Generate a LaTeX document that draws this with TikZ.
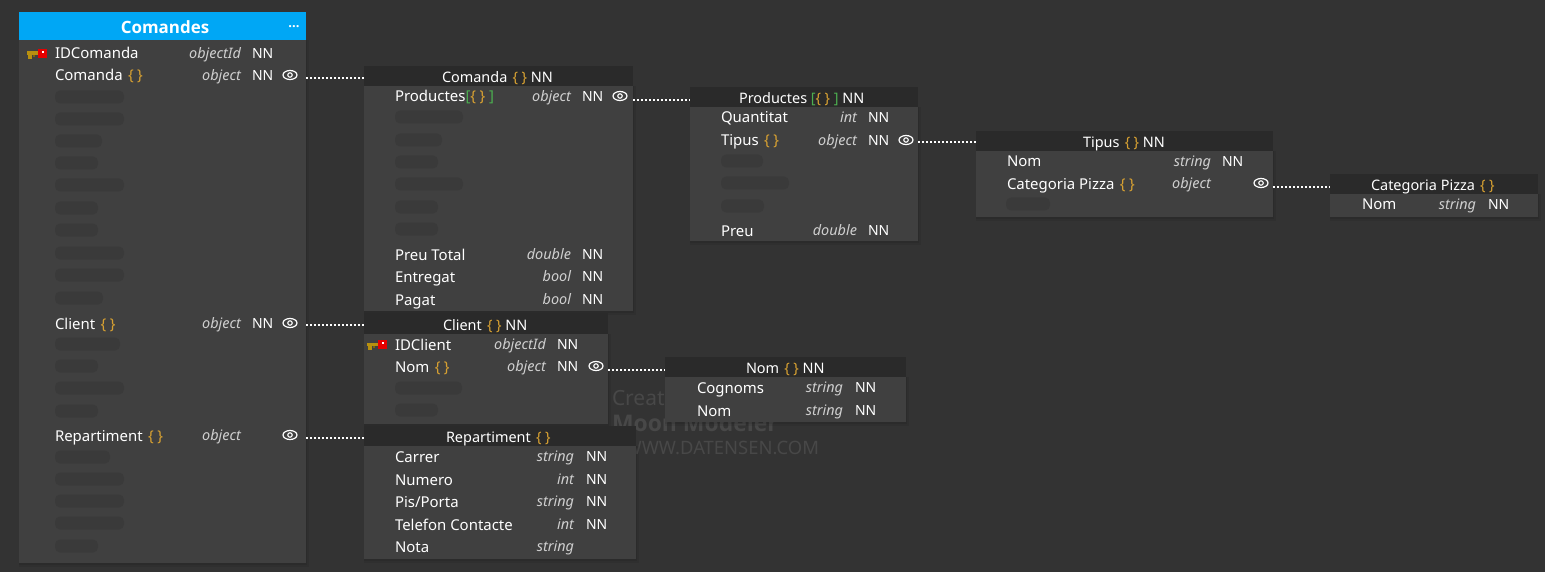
\documentclass[tikz,border=0pt]{standalone}
\usepackage{fontspec}
\setmainfont{Noto Sans}
\newfontfamily\boldface{Open Sans}
\usetikzlibrary{shapes.geometric}
\definecolor{canvasbg}{HTML}{333333}
\definecolor{bodybg}{HTML}{404040}
\definecolor{hdrbg}{HTML}{2A2A2A}
\definecolor{bluehdr}{HTML}{00A7F5}
\definecolor{bracecol}{HTML}{D6A032}
\definecolor{listcol}{HTML}{4CAF50}
\definecolor{typecol}{HTML}{CFCFCF}
\definecolor{ghostcol}{HTML}{3A3A3A}
\definecolor{wmcol}{HTML}{484848}
\definecolor{keygold}{HTML}{B8900F}
\newcommand{\obj}{\hspace{1.5bp}\textcolor{bracecol}{\{\hspace{3.5bp}\}}}
\newcommand{\lst}{\textcolor{listcol}{[}\textcolor{bracecol}{\{\hspace{3.5bp}\}}\textcolor{listcol}{\ ]}}
\newcounter{tn}
\tikzset{
  every node/.style={inner sep=0pt,outer sep=0pt},
  fieldname/.style={anchor=base west,text=white,font=\fontsize{15}{18}\selectfont},
  fieldtype/.style={anchor=base east,text=typecol,font=\fontsize{14.5}{18}\selectfont\itshape},
  fieldnn/.style={anchor=base west,text=white,font=\fontsize{14}{18}\selectfont},
  tabletitle/.style={anchor=base west,text=white,font=\fontsize{14.5}{18}\selectfont},
  ghostbar/.style={fill=ghostcol,rounded corners=5bp},
  eyeicon/.style={ellipse,draw=white,line width=1.2bp,minimum width=14bp,minimum height=9bp},
  eyepupil/.style={circle,draw=white,line width=1.1bp,minimum size=4.5bp},
  linkdots/.style={draw=white,line width=1.7bp,dash pattern=on 2bp off 2bp},
  watermark/.style={text=wmcol}
}
\newcommand{\tablebox}[7]{%
  \pgfmathsetmacro{\bw}{#4-#2}\pgfmathsetmacro{\hh}{#5-#3}\pgfmathsetmacro{\bh}{#6-#5}%
  \fill[black,opacity=.07] (#2,#5) rectangle (#4+2.5,#6+3.5);
  \fill[black,opacity=.08] (#2,#5) rectangle (#4+1,#6+1.5);
  \node[anchor=north west,fill=#7,minimum width=\bw bp,minimum height=\hh bp] (#1h) at (#2,#3) {};
  \node[anchor=north west,fill=bodybg,minimum width=\bw bp,minimum height=\bh bp] (#1b) at (#2,#5) {};
}
\newcommand{\ttitle}[3]{\stepcounter{tn}\node[tabletitle] (t\thetn) at (#1,#2+5.2) {#3};}
\newcommand{\tname}[3]{\stepcounter{tn}\node[fieldname] (t\thetn) at (#1,#2+6) {#3};}
\newcommand{\ttype}[3]{\stepcounter{tn}\node[fieldtype] (t\thetn) at (#1,#2+5.7) {#3};}
\newcommand{\tnn}[2]{\stepcounter{tn}\node[fieldnn] (t\thetn) at (#1,#2+5.7) {NN};}
\newcommand{\ghost}[3]{\fill[ghostbar] (#1,#2-6.5) rectangle (#1+#3,#2+6.5);}
\newcommand{\eye}[3]{\node[eyeicon] (#1) at (#2,#3) {};\node[eyepupil] at (#2,#3) {};}
\newcommand{\keyicon}[2]{%
  \fill[keygold] (#1,#2-2.5) rectangle (#1+12,#2+1);
  \fill[keygold] (#1+1,#2+1) rectangle (#1+5,#2+5);
  \fill[keygold!70!black] (#1+6,#2+1) rectangle (#1+8,#2+3);
  \fill[red!90!black] (#1+11,#2-5) rectangle (#1+20,#2+4);
  \fill[white] (#1+14.5,#2-3) rectangle (#1+16.5,#2-1);
}
\begin{document}
\begin{tikzpicture}[x=1bp,y=-1bp]
\useasboundingbox (0,0) rectangle (1545,572);
\fill[canvasbg] (0,0) rectangle (1545,572);
% watermark
\node[watermark,anchor=base west,font=\fontsize{21}{24}\selectfont] (wmA) at (612,405) {Created};
\node[watermark,anchor=base west,font=\boldface\fontsize{23}{26}\selectfont\bfseries] (wmB) at (612,431) {Moon Modeler};
\node[watermark,anchor=base east,font=\fontsize{18.5}{24}\selectfont] (wmC) at (819,454) {WWW.DATENSEN.COM};
% tables
\tablebox{comandes}{19}{12}{306}{40}{563}{bluehdr}
\tablebox{comanda}{364}{66}{633}{86}{311}{hdrbg}
\tablebox{productes}{690}{87}{918}{107}{241}{hdrbg}
\tablebox{tipus}{976}{131}{1273}{151}{217}{hdrbg}
\tablebox{categoria}{1330}{174}{1538}{194}{217}{hdrbg}
\tablebox{client}{364}{313}{608}{334}{424}{hdrbg}
\tablebox{nomt}{665}{357}{906}{377}{422}{hdrbg}
\tablebox{repart}{364}{426}{636}{446}{559}{hdrbg}
% Comandes
\node[anchor=base,text=white,font=\boldface\fontsize{17}{20}\selectfont\bfseries] (titleC) at (165,34) {Comandes};
\node[anchor=base,text=white,font=\boldface\fontsize{13}{12}\selectfont\bfseries] (dotsC) at (294,28) {...};
\keyicon{27}{54}
\tname{55}{53}{IDComanda}\ttype{241}{53}{objectId}\tnn{252}{53}
\tname{55}{75}{Comanda\ \obj}\ttype{241}{75}{object}\tnn{252}{75}\eye{eyeA}{290}{75}
\foreach \yy/\ww in {97/69,119/69,141/47,163/43,185/69,208/43,230/43,253/69,275/69,298/48,344/65,366/43,388/69,411/43,457/55,479/69,501/69,523/69,546/43}{\ghost{55}{\yy}{\ww}}
\tname{55}{323}{Client\ \obj}\ttype{241}{323}{object}\tnn{252}{323}\eye{eyeB}{290}{323}
\tname{55}{435}{Repartiment\ \obj}\ttype{241}{435}{object}\eye{eyeC}{290}{435}
% Comanda
\ttitle{442}{77}{Comanda \obj\ NN}
\tname{395}{96}{Productes\lst}\ttype{571}{96}{object}\tnn{582}{96}\eye{eyeD}{620}{96}
\foreach \yy/\ww in {117/68,140/47,162/43,184/68,207/43,229/43}{\ghost{395}{\yy}{\ww}}
\tname{395}{254}{Preu Total}\ttype{571}{254}{double}\tnn{582}{254}
\tname{395}{276}{Entregat}\ttype{571}{276}{bool}\tnn{582}{276}
\tname{395}{299}{Pagat}\ttype{571}{299}{bool}\tnn{582}{299}
% Productes
\ttitle{739}{98}{Productes \lst\ NN}
\tname{721}{117}{Quantitat}\ttype{857}{117}{int}\tnn{868}{117}
\tname{721}{140}{Tipus\ \obj}\ttype{857}{140}{object}\tnn{868}{140}\eye{eyeE}{906}{140}
\foreach \yy/\ww in {161/42,183/68,206/43}{\ghost{721}{\yy}{\ww}}
\tname{721}{230}{Preu}\ttype{857}{230}{double}\tnn{868}{230}
% Tipus
\ttitle{1083}{142}{Tipus \obj\ NN}
\tname{1007}{161}{Nom}\ttype{1211}{161}{string}\tnn{1222}{161}
\tname{1007}{184}{Categoria Pizza\ \obj}\ttype{1211}{183}{object}\eye{eyeF}{1261}{183}
\ghost{1006}{204}{44}
% Categoria
\ttitle{1371}{185}{Categoria Pizza \obj}
\tname{1362}{204}{Nom}\ttype{1476}{204}{string}\tnn{1488}{204}
% Client
\ttitle{443}{325}{Client \obj\ NN}
\keyicon{367}{345}
\tname{395}{344}{IDClient}\ttype{546}{344}{objectId}\tnn{557}{344}
\tname{395}{366}{Nom\ \obj}\ttype{546}{366}{object}\tnn{557}{366}\eye{eyeG}{596}{366}
\ghost{395}{388}{67}\ghost{395}{410}{43}
% Nom
\ttitle{746}{368}{Nom \obj\ NN}
\tname{697}{387.5}{Cognoms}\ttype{843}{387}{string}\tnn{855}{387}
\tname{697}{410}{Nom}\ttype{843}{410}{string}\tnn{855}{410}
% Repartiment
\ttitle{446}{437}{Repartiment \obj}
\tname{395}{456}{Carrer}\ttype{574}{456}{string}\tnn{586}{456}
\tname{395}{479}{Numero}\ttype{574}{479}{int}\tnn{586}{479}
\tname{395}{501}{Pis/Porta}\ttype{574}{501}{string}\tnn{586}{501}
\tname{395}{524}{Telefon Contacte}\ttype{574}{524}{int}\tnn{586}{524}
\tname{395}{546}{Nota}\ttype{574}{546}{string}
% connectors
\coordinate (pA) at (306,78);
\coordinate (pB) at (306,325);
\coordinate (pC) at (306,438);
\coordinate (pD) at (633,100);
\coordinate (pE) at (918,142);
\coordinate (pF) at (1273,187);
\coordinate (pG) at (608,370);
\draw[linkdots] (pA) -- (pA -| comandah.west);
\draw[linkdots] (pB) -- (pB -| clienth.west);
\draw[linkdots] (pC) -- (pC -| reparth.west);
\draw[linkdots] (pD) -- (pD -| productesh.west);
\draw[linkdots] (pE) -- (pE -| tipush.west);
\draw[linkdots] (pF) -- (pF -| categoriah.west);
\draw[linkdots] (pG) -- (pG -| nomth.west);
\end{tikzpicture}
\end{document}
